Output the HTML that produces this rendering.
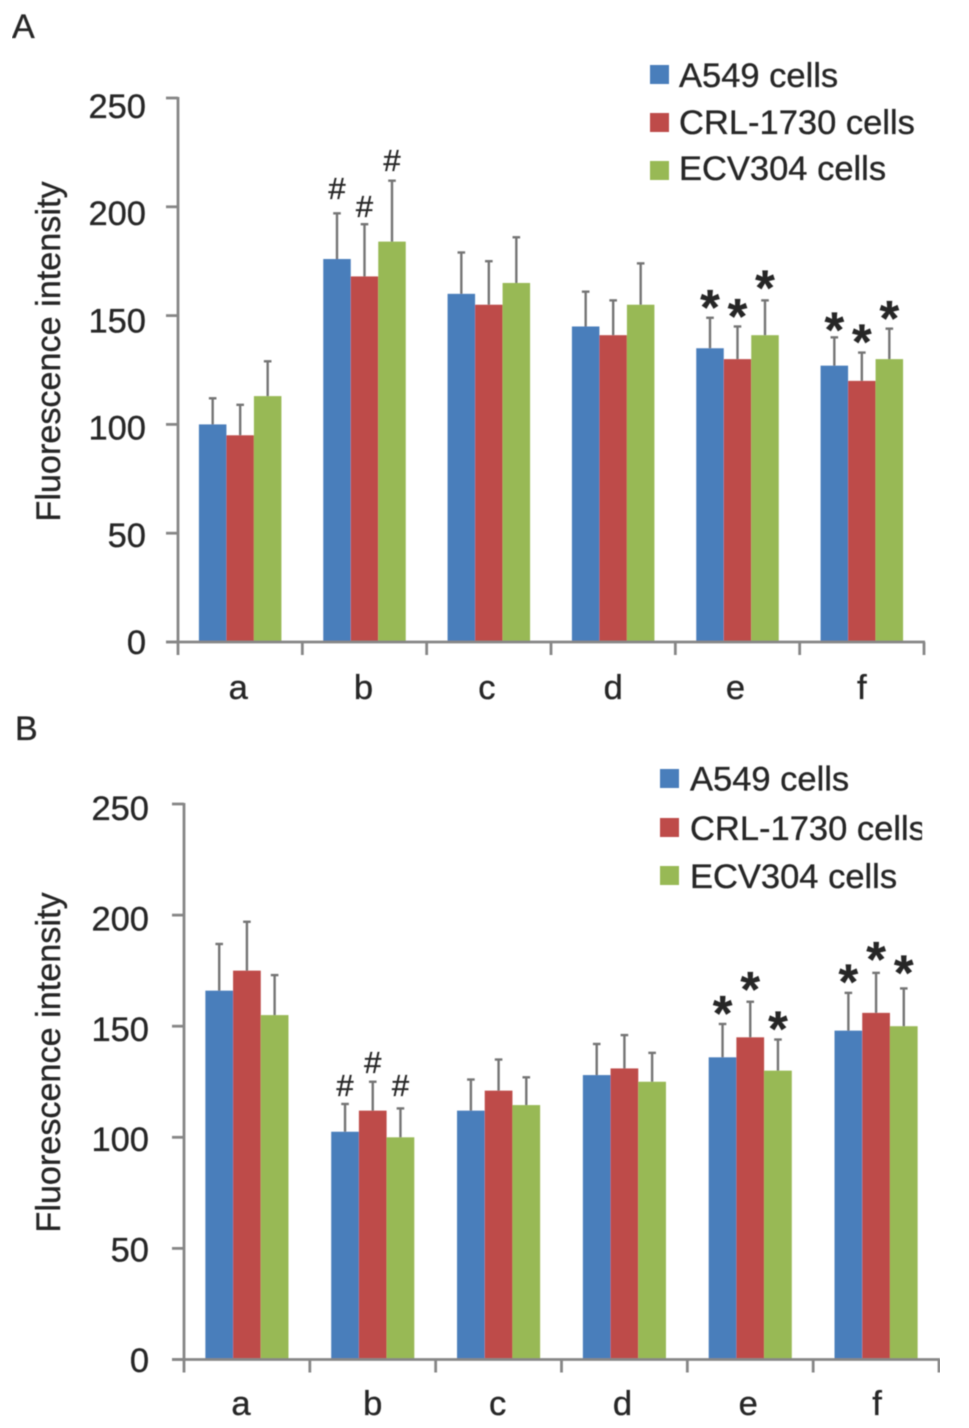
<!DOCTYPE html>
<html lang="en">
<head>
<meta charset="utf-8">
<title>Fluorescence intensity charts</title>
<style>
html,body{margin:0;padding:0;background:#fff;width:969px;height:1428px;overflow:hidden}
svg{display:block}
text{font-family:"Liberation Sans",Arial,sans-serif;fill:#262626;stroke:#262626;stroke-width:0.35px}
</style>
</head>
<body>
<svg id="chart" xmlns="http://www.w3.org/2000/svg" width="969" height="1428" viewBox="0 0 969 1428">
  <defs>
    <filter id="soft" x="0" y="0" width="100%" height="100%"><feGaussianBlur stdDeviation="0.6"/></filter>
    <clipPath id="legend-clip-b"><rect x="640" y="750" width="282" height="150"/></clipPath>
  </defs>
  <rect width="969" height="1428" fill="#fff"/>
  <g id="root" filter="url(#soft)"></g>
</svg>
<script>
// Shared data
const categories = ['a', 'b', 'c', 'd', 'e', 'f'];
const seriesNames = ['A549 cells', 'CRL-1730 cells', 'ECV304 cells'];
const tickLabels = [0, 50, 100, 150, 200, 250];

// Panel A values
const a549A = [100, 176, 160, 145, 135, 127];
const crlA = [95, 168, 155, 141, 130, 120];
const ecvA = [113, 184, 165, 155, 141, 130];
const a549ErrTopA = [112, 197, 179, 161, 149, 140];
const crlErrTopA = [109, 192, 175, 157, 145, 133];
const ecvErrTopA = [129, 212, 186, 174, 157, 144];
const a549SymbolsA = ['', '#', '', '', '*', '*'];
const crlSymbolsA = ['', '#', '', '', '*', '*'];
const ecvSymbolsA = ['', '#', '', '', '*', '*'];
const a549SymbolLevelA = [0, 208.6, 0, 0, 157, 146.7];
const crlSymbolLevelA = [0, 200.4, 0, 0, 152.8, 141];
const ecvSymbolLevelA = [0, 221.5, 0, 0, 165.9, 151.8];

// Panel B values
const a549B = [166, 102.5, 112, 128, 136, 148];
const crlB = [175, 112, 121, 131, 145, 156];
const ecvB = [155, 100, 114.5, 125, 130, 150];
const a549ErrTopB = [187, 115, 126, 142, 151, 165];
const crlErrTopB = [197, 125, 135, 146, 161, 174];
const ecvErrTopB = [173, 113, 127, 138, 144, 167];
const a549SymbolsB = ['', '#', '', '', '*', '*'];
const crlSymbolsB = ['', '#', '', '', '*', '*'];
const ecvSymbolsB = ['', '#', '', '', '*', '*'];
const a549SymbolLevelB = [0, 123.5, 0, 0, 158.8, 173];
const crlSymbolLevelB = [0, 133.8, 0, 0, 169.7, 183.2];
const ecvSymbolLevelB = [0, 123.5, 0, 0, 152, 177];

const colors = ['#4a7ebb', '#be4b48', '#98b954'];
const AXIS = '#868686', ERR = '#747474';
const NS = 'http://www.w3.org/2000/svg';
const root = document.getElementById('root');

function el(tag, attrs, parent, txt) {
  const e = document.createElementNS(NS, tag);
  for (const k in attrs) e.setAttribute(k, attrs[k]);
  if (txt !== undefined) e.textContent = txt;
  (parent || root).appendChild(e);
  return e;
}

function drawPanel(p) {
  const g = el('g', {}, root);
  
  

  const yScale = v => p.y0 - v * (p.y0 - p.yTop) / 250;
  const labelY = v => p.labelY0 - v * p.labelStep / 50;
  const band = (p.xRight - p.x0) / categories.length;
  const barW = p.barW;
  const xCenter = i => p.x0 + band * (i + 0.5);

  const letter = el('text', {x: p.letterX, y: p.letterY, 'font-size': 34}, g, p.id);
  
  

  const title = el('text', {x: 0, y: 0, 'font-size': 34.2, 'text-anchor': 'middle',
    transform: 'translate(60 ' + p.titleY + ') rotate(-90)'}, g, 'Fluorescence intensity');
  
  

  // bars
  p.values.forEach((vals, s) => {
    vals.forEach((v, i) => {
      const x = xCenter(i) + (s - 1.5) * barW;
      const bar = el('rect', {x: x, y: yScale(v), width: barW, height: yScale(0) - yScale(v), fill: colors[s]}, g);
      
      
    });
  });

  // error bars
  p.errTops.forEach((tops, s) => {
    tops.forEach((t, i) => {
      const cx = xCenter(i) + (s - 1) * barW;
      const eg = el('g', {stroke: ERR, 'stroke-width': 2.4, fill: 'none'}, g);
      
      
      el('line', {x1: cx, x2: cx, y1: yScale(p.values[s][i]), y2: yScale(t)}, eg);
      el('line', {x1: cx - 3.8, x2: cx + 3.8, y1: yScale(t), y2: yScale(t)}, eg);
    });
  });

  // significance symbols
  p.symbols.forEach((syms, s) => {
    syms.forEach((sym, i) => {
      if (!sym) return;
      const cx = xCenter(i) + (s - 1) * barW;
      const cy = yScale(p.symbolLevels[s][i]);
      const isStar = sym === '*';
      const t = el('text', {x: cx, y: cy + (isStar ? 24 : 11), 'text-anchor': 'middle',
        'font-size': isStar ? 50 : 31, 'font-weight': isStar ? 'bold' : 'normal'}, g, sym);
      
      
    });
  });

  // axes
  const axis = el('g', {stroke: AXIS, 'stroke-width': 2.8, fill: 'none'}, g);
  
  
  el('line', {x1: p.x0, x2: p.x0, y1: yScale(250) - 1, y2: yScale(0) + 13}, axis);
  el('line', {x1: p.x0 - 12, x2: p.xRight + 1, y1: yScale(0), y2: yScale(0)}, axis);
  tickLabels.forEach(v => {
    el('line', {x1: p.x0 - 12, x2: p.x0, y1: yScale(v), y2: yScale(v)}, axis);
    const t = el('text', {x: p.labelRight, y: labelY(v), 'font-size': 34.5, 'text-anchor': 'end'}, g, String(v));
    
    
  });
  categories.forEach((c, i) => {
    const tx = p.x0 + band * (i + 1);
    el('line', {x1: tx, x2: tx, y1: yScale(0), y2: yScale(0) + 13}, axis);
    const t = el('text', {x: xCenter(i) + p.labelNudge[i], y: p.catBaseline, 'font-size': 34.5, 'text-anchor': 'middle'}, g, c);
    
    
  });

  // legend
  const lg = el('g', p.legendClip ? {'clip-path': 'url(#' + p.legendClip + ')'} : {}, g);
  
  
  seriesNames.forEach((n, s) => {
    const sw = el('rect', {x: p.legendX, y: p.legendY[s], width: 19, height: 19, fill: colors[s]}, lg);
    
    
    const t = el('text', {x: p.legendTextX, y: p.legendBase[s], 'font-size': 34.5}, lg, n);
    
    
  });
}

drawPanel({
  id: 'A', x0: 178, xRight: 924, yTop: 98, y0: 642, barW: 27.5,
  labelY0: 654, labelStep: 107.2, labelRight: 146, titleY: 351.5,
  letterX: 12, letterY: 38, catBaseline: 699, labelNudge: [-2, -1, -2, 0, -2, 0],
  values: [a549A, crlA, ecvA], errTops: [a549ErrTopA, crlErrTopA, ecvErrTopA],
  symbols: [a549SymbolsA, crlSymbolsA, ecvSymbolsA],
  symbolLevels: [a549SymbolLevelA, crlSymbolLevelA, ecvSymbolLevelA],
  legendX: 650, legendTextX: 679, legendY: [65, 113, 161], legendBase: [87, 134, 180]
});
drawPanel({
  id: 'B', x0: 184, xRight: 939, yTop: 804, y0: 1359.5, barW: 27.7,
  labelY0: 1372, labelStep: 110.4, labelRight: 149, titleY: 1062.5,
  letterX: 15, letterY: 740, catBaseline: 1415, labelNudge: [-6, 0, -1, -2, -2, 1],
  values: [a549B, crlB, ecvB], errTops: [a549ErrTopB, crlErrTopB, ecvErrTopB],
  symbols: [a549SymbolsB, crlSymbolsB, ecvSymbolsB],
  symbolLevels: [a549SymbolLevelB, crlSymbolLevelB, ecvSymbolLevelB],
  legendX: 660, legendTextX: 690, legendY: [769, 818, 866], legendBase: [790.5, 840, 888], legendClip: 'legend-clip-b'
});
</script>
</body>
</html>
